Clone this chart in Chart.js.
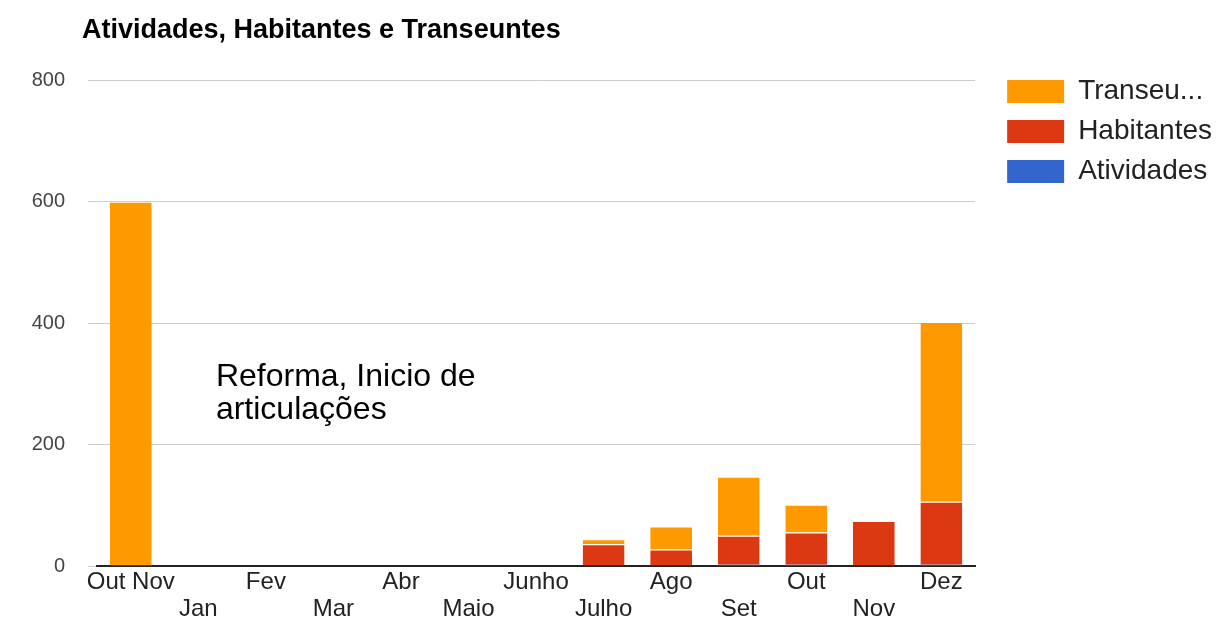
<!DOCTYPE html>
<html>
<head>
<meta charset="utf-8">
<script src="https://cdn.jsdelivr.net/npm/chart.js@4/dist/chart.umd.min.js"></script>
<style>
    html, body { margin: 0; padding: 0; background: #fff; }
    #wrap { width: 1222px; height: 641px; }
</style>
</head>
<body>
<div id="wrap"><canvas id="atividades_Chart"></canvas></div>
<script>
var meses = ['Out Nov', 'Jan', 'Fev', 'Mar', 'Abr', 'Maio', 'Junho', 'Julho', 'Ago', 'Set', 'Out', 'Nov', 'Dez'];
var atividades = [0, 0, 0, 0, 0, 0, 0, 1, 1, 2, 2, 1, 2];
var habitantes = [0, 0, 0, 0, 0, 0, 0, 35, 26, 48, 53, 73, 104];
var transeuntes = [600, 0, 0, 0, 0, 0, 0, 8, 38, 97, 46, 0, 296];
var yTicks = [0, 200, 400, 600, 800];
var nota = ['Reforma, Inicio de', 'articulações'];
var notaPos = { x: 1.26, y: 296 };

var ctx = document.getElementById('atividades_Chart');
var fonte = 'Arial, "Liberation Sans", sans-serif';

// nota de texto no grafico + titulo deslocado
var notaPlugin = {
    id: 'nota',
    afterLayout: function (chart) {
        if (chart.titleBlock) chart.titleBlock.left = 82;
    },
    afterDatasetsDraw: function (chart) {
        var c = chart.ctx;
        var x = chart.scales.x.getPixelForValue(notaPos.x);
        var y = chart.scales.y.getPixelForValue(notaPos.y);
        c.save();
        c.fillStyle = '#000';
        c.font = '32px ' + fonte;
        c.textAlign = 'left';
        c.textBaseline = 'alphabetic';
        nota.forEach(function (linha, i) {
            c.fillText(linha, x, y + i * 33);
        });
        c.restore();
    }
};

var myChart = new Chart(ctx, {
    type: 'bar',
    data: {
        labels: meses,
        datasets: [{
            label: 'Atividades',
            data: atividades,
            backgroundColor: '#3366cc',
            borderWidth: 0
        }, {
            label: 'Habitantes',
            data: habitantes,
            backgroundColor: '#dc3912',
            borderColor: '#ffffff',
            borderWidth: { top: 1, left: 0, right: 0, bottom: 0 }
        }, {
            label: 'Transeuntes',
            data: transeuntes,
            backgroundColor: '#ff9900',
            borderColor: '#ffffff',
            borderWidth: { top: 1, left: 0, right: 0, bottom: 0 }
        }]
    },
    options: {
        responsive: true,
        maintainAspectRatio: false,
        animation: false,
        datasets: {
            bar: { barPercentage: 0.62, categoryPercentage: 1 }
        },
        layout: { padding: { left: 0, right: 0, top: 0, bottom: 0 } },
        scales: {
            x: {
                stacked: true,
                grid: { display: false, drawTicks: false },
                border: { display: true, color: '#222', width: 2 },
                ticks: {
                    autoSkip: false,
                    maxRotation: 0,
                    padding: 3,
                    color: '#222',
                    font: { family: fonte, size: 24, lineHeight: 1.13 },
                    callback: function (value, index) {
                        var l = meses[index];
                        return index % 2 ? ['', l] : l;
                    }
                },
                afterFit: function (scale) { scale.height = 75; }
            },
            y: {
                stacked: true,
                min: 0,
                max: 800,
                afterBuildTicks: function (scale) {
                    scale.ticks = yTicks.map(function (v) { return { value: v }; });
                },
                grid: { color: '#cccccc', tickLength: 9 },
                border: { display: false },
                ticks: {
                    padding: 23,
                    color: '#444',
                    font: { family: fonte, size: 20 }
                },
                afterFit: function (scale) { scale.width = 97; }
            },
            folga: {
                type: 'linear',
                position: 'right',
                display: true,
                grid: { display: false },
                border: { display: false },
                ticks: { display: false },
                afterFit: function (scale) { scale.width = 20; }
            }
        },
        plugins: {
            title: {
                display: true,
                text: 'Atividades, Habitantes e Transeuntes',
                align: 'start',
                color: '#000',
                font: { family: fonte, size: 27, weight: 'bold', lineHeight: 1.2 },
                padding: { top: 14, bottom: 34 }
            },
            legend: {
                position: 'right',
                align: 'start',
                reverse: true,
                maxWidth: 320,
                title: {
                    display: true,
                    text: '',
                    font: { size: 10, lineHeight: 1.2 },
                    padding: { top: 53.5, bottom: 0 }
                },
                labels: {
                    boxWidth: 57,
                    boxHeight: 23,
                    padding: 12,
                    color: '#222',
                    font: { family: fonte, size: 28 },
                    generateLabels: function (chart) {
                        var itens = Chart.defaults.plugins.legend.labels.generateLabels(chart);
                        itens.forEach(function (it) {
                            it.lineWidth = 0;
                            if (it.text === 'Transeuntes') it.text = 'Transeu...';
                        });
                        return itens;
                    }
                }
            },
            tooltip: { enabled: false }
        }
    },
    plugins: [notaPlugin]
});
</script>
</body>
</html>
